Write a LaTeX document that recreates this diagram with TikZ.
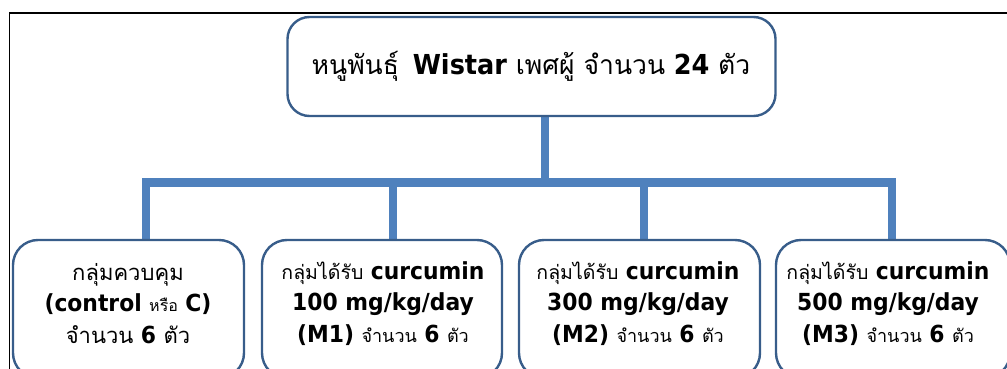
\documentclass[tikz,border=0pt]{standalone}
\usepackage{fontspec}
\setmainfont{DejaVu Sans}[BoldFeatures={FakeStretch=0.93}]
\newfontfamily\thai[Script=Thai]{Loma}
\usetikzlibrary{backgrounds}
\definecolor{connblue}{RGB}{79,129,189}
\definecolor{edgeblue}{RGB}{56,93,138}
\newcommand{\ths}[2]{{\thai\fontsize{#1}{31}\selectfont #2}}
\begin{document}
\begin{tikzpicture}[x=1pt,y=-1pt,
  boxa/.style={draw=edgeblue, line width=2.4pt, rounded corners=22pt, fill=white, inner sep=0pt},
  boxb/.style={draw=edgeblue, line width=2.4pt, rounded corners=25pt, fill=white, inner sep=0pt},
  txt/.style={align=center, inner sep=0pt, font=\fontsize{23.5}{31.5}\selectfont},
  toptxt/.style={align=center, inner sep=0pt, font=\fontsize{27.5}{32}\selectfont},
  link/.style={draw=connblue, line width=8.5pt}]
\useasboundingbox (0,0) rectangle (1007,369);
\clip (0,0) rectangle (1007,369);
\draw[line width=1.8pt] (9.5,372) -- (9.5,13) -- (1012,13);
% boxes
\node[boxa, minimum width=488pt, minimum height=99pt] (top) at (531.5,66.5) {};
\node[boxb, minimum width=231pt, minimum height=138pt] (b1) at (128.5,309) {};
\node[boxb, minimum width=240pt, minimum height=138pt] (b2) at (382,309) {};
\node[boxb, minimum width=241pt, minimum height=138pt] (b3) at (639.5,309) {};
\node[boxb, minimum width=234pt, minimum height=138pt] (b4) at (893,309) {};
% texts
\node[toptxt] (t0) at (531,66) {\ths{26.5}{หนูพันธุ์}\hspace{0.5em}{\bfseries Wistar} \ths{26.5}{เพศผู้ จำนวน} {\bfseries 24} \ths{26.5}{ตัว}};
\node[txt] (t1) at (128,303.5) {\ths{22}{กลุ่มควบคุม}\\{\bfseries (control} \ths{16}{หรือ} {\bfseries C)}\\\ths{22}{จำนวน} {\bfseries 6} \ths{22}{ตัว}};
\node[txt] (t2) at (383,303.5) {\ths{19.5}{กลุ่มได้รับ} {\bfseries curcumin}\\{\bfseries 100 mg/kg/day}\\{\bfseries (M1)} \ths{18}{จำนวน} {\bfseries 6} \ths{18}{ตัว}};
\node[txt] (t3) at (638,303.5) {\ths{19.5}{กลุ่มได้รับ} {\bfseries curcumin}\\{\bfseries 300 mg/kg/day}\\{\bfseries (M2)} \ths{18}{จำนวน} {\bfseries 6} \ths{18}{ตัว}};
\node[txt] (t4) at (888,303.5) {\ths{19.5}{กลุ่มได้รับ} {\bfseries curcumin}\\{\bfseries 500 mg/kg/day}\\{\bfseries (M3)} \ths{18}{จำนวน} {\bfseries 6} \ths{18}{ตัว}};
% connectors
\coordinate (hub) at (545,182.5);
\coordinate (j1) at (146,182.5);
\coordinate (j2) at (393,182.5);
\coordinate (j3) at (644,182.5);
\coordinate (j4) at (892,182.5);
\begin{pgfonlayer}{background}
\draw[link] (top.south -| hub) -- (hub);
\draw[link] (b1.north -| j1) -- (j1) -- (j4) -- (b4.north -| j4);
\draw[link] (j2) -- (b2.north -| j2);
\draw[link] (j3) -- (b3.north -| j3);
\end{pgfonlayer}
\end{tikzpicture}
\end{document}
